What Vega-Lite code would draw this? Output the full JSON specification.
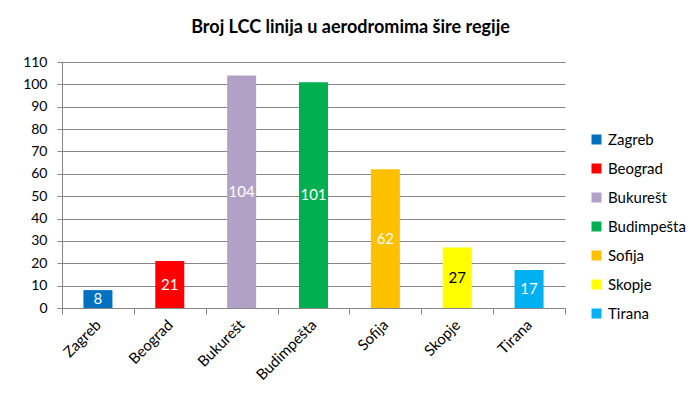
{
  "$schema": "https://vega.github.io/schema/vega-lite/v6.json",
  "width": 503,
  "height": 246,
  "autosize": "none",
  "padding": {"left": 62, "top": 62, "right": 135, "bottom": 111},
  "background": "white",
  "title": {
    "text": "Broj LCC linija u aerodromima šire regije",
    "font": "Lato",
    "fontSize": 18,
    "fontWeight": "bold",
    "color": "black",
    "anchor": "middle",
    "dx": 37,
    "offset": 18
  },
  "data": {
    "values": [
      {"grad": "Zagreb", "linije": 8},
      {"grad": "Beograd", "linije": 21},
      {"grad": "Bukurešt", "linije": 104},
      {"grad": "Budimpešta", "linije": 101},
      {"grad": "Sofija", "linije": 62},
      {"grad": "Skopje", "linije": 27},
      {"grad": "Tirana", "linije": 17}
    ]
  },
  "encoding": {
    "x": {
      "field": "grad",
      "type": "nominal",
      "sort": null,
      "title": null,
      "scale": {"paddingInner": 0, "paddingOuter": 0},
      "axis": {
        "labelAngle": -45,
        "labelAlign": "right",
        "labelBaseline": "middle",
        "labelFontSize": 15,
        "tickBand": "extent",
        "tickSize": 6,
        "labelPadding": 8,
        "grid": false
      }
    }
  },
  "layer": [
    {
      "mark": {"type": "bar", "size": 29},
      "encoding": {
        "y": {
          "field": "linije",
          "type": "quantitative",
          "title": null,
          "scale": {"domain": [0, 110], "nice": false},
          "axis": {
            "values": [0, 10, 20, 30, 40, 50, 60, 70, 80, 90, 100, 110],
            "labelOverlap": false,
            "tickSize": 5,
            "labelPadding": 10,
            "grid": true
          }
        },
        "color": {
          "field": "grad",
          "type": "nominal",
          "sort": null,
          "scale": {
            "domain": ["Zagreb", "Beograd", "Bukurešt", "Budimpešta", "Sofija", "Skopje", "Tirana"],
            "range": ["#0070C0", "#FF0000", "#B2A1C7", "#00B050", "#FFC000", "#FFFF00", "#00B0F0"]
          },
          "legend": {
            "title": null,
            "orient": "none",
            "legendX": 527,
            "legendY": 70,
            "symbolType": "square",
            "symbolSize": 100,
            "symbolStrokeWidth": 0,
            "labelFontSize": 15,
            "labelFont": "Lato",
            "labelColor": "black",
            "rowPadding": 13,
            "labelOffset": 4
          }
        }
      }
    },
    {
      "transform": [{"calculate": "datum.linije / 2", "as": "sredina"}],
      "mark": {"type": "text", "font": "Lato", "fontSize": 15, "baseline": "middle"},
      "encoding": {
        "y": {
          "field": "sredina",
          "type": "quantitative",
          "title": null,
          "scale": {"domain": [0, 110], "nice": false},
          "axis": {
            "values": [0, 10, 20, 30, 40, 50, 60, 70, 80, 90, 100, 110],
            "labelOverlap": false,
            "tickSize": 5,
            "labelPadding": 10,
            "grid": true
          }
        },
        "text": {"field": "linije", "type": "quantitative"},
        "color": {
          "condition": {"test": "datum.grad === 'Skopje'", "value": "black"},
          "value": "white"
        }
      }
    }
  ],
  "config": {
    "view": {"stroke": null},
    "axis": {
      "labelFont": "Lato",
      "labelFontSize": 14,
      "labelColor": "black",
      "domainColor": "#868686",
      "tickColor": "#868686",
      "gridColor": "#868686",
      "gridOpacity": 1
    }
  }
}
